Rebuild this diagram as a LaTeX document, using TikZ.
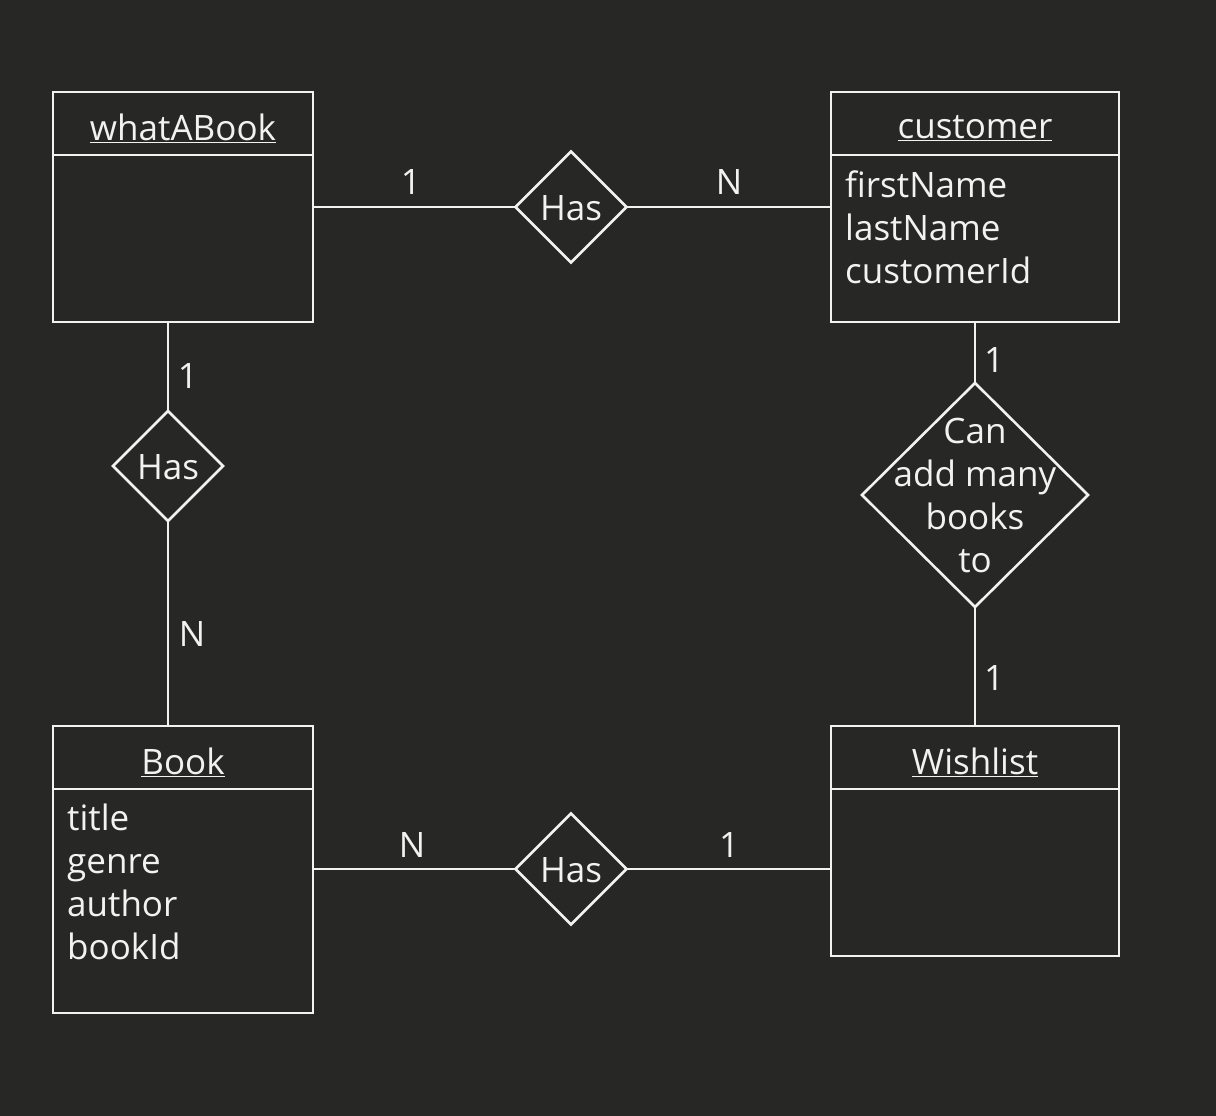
\documentclass[tikz,border=0pt]{standalone}
\usepackage{fontspec}
\setmainfont{Open Sans}
\usetikzlibrary{shapes.geometric}
\definecolor{bgc}{HTML}{272725}
\definecolor{fgc}{HTML}{F2F2F2}
\begin{document}
\begin{tikzpicture}[x=1pt,y=-1pt,
  every node/.style={text=fgc,font=\fontsize{35}{42}\selectfont},
  ln/.style={draw=fgc,line width=2.6pt},
  entity/.style={ln,rectangle,inner sep=0pt,outer sep=0pt,anchor=north west,minimum width=#1},
  rel/.style={ln,diamond,inner sep=0pt,outer sep=0pt,minimum width=#1,minimum height=#1},
  attr/.style={anchor=base west,inner sep=0pt},
  card/.style={inner sep=0pt}]
\fill[bgc] (0,0) rectangle (1216,1116);
\useasboundingbox (0,0) rectangle (1216,1116);

% entities
\node[entity=260pt,minimum height=230pt] (wab) at (53,92) {};
\node[entity=288pt,minimum height=230pt] (cust) at (831,92) {};
\node[entity=260pt,minimum height=287pt] (book) at (53,726) {};
\node[entity=288pt,minimum height=230pt] (wish) at (831,726) {};

% header separators
\coordinate (wabh) at (53,155);
\coordinate (custh) at (831,155);
\coordinate (bookh) at (53,789);
\coordinate (wishh) at (831,789);
\draw[ln] (wabh) -- (wabh -| wab.east);
\draw[ln] (custh) -- (custh -| cust.east);
\draw[ln] (bookh) -- (bookh -| book.east);
\draw[ln] (wishh) -- (wishh -| wish.east);

% titles
\node (twab) at (183,128) {\underline{whatABook}};
\node (tcust) at (975,128) {\underline{customer}};
\node (tbook) at (183,762) {\underline{Book}};
\node (twish) at (975,762) {\underline{Wishlist}};

% attributes
\node[attr] (c1) at (845,197) {firstName};
\node[attr] (c2) at (845,240) {lastName};
\node[attr] (c3) at (845,283) {customerId};
\node[attr] (b1) at (67,830) {title};
\node[attr] (b2) at (67,873) {genre};
\node[attr] (b3) at (67,916) {author};
\node[attr] (b4) at (67,959) {bookId};

% relationships
\node[rel=111pt] (r1) at (571,207) {};
\node (r1t) at (571,208) {Has};
\node[rel=110pt] (r2) at (168,466) {};
\node (r2t) at (168,467) {Has};
\node[rel=111pt] (r4) at (571,869) {};
\node (r4t) at (571,870) {Has};
\node[ln,diamond,inner sep=0pt,outer sep=0pt,minimum width=226pt,minimum height=224pt] (r3) at (975,495) {};
\node[align=center,font=\fontsize{35}{43}\selectfont] (r3t) at (975,495) {Can\\add many\\books\\to};

% connectors
\draw[ln] (wab.east) -- (r1.west);
\draw[ln] (r1.east) -- (cust.west);
\draw[ln] (r2.north |- wab.south) -- (r2.north);
\draw[ln] (r2.south) -- (r2.south |- book.north);
\draw[ln] (cust.south) -- (r3.north);
\draw[ln] (r3.south) -- (wish.north);
\draw[ln] (r4.west -| book.east) -- (r4.west);
\draw[ln] (r4.east) -- (r4.east -| wish.west);

% cardinalities
\node[card] (k1) at (411,182) {1};
\node[card] (k2) at (729,182) {N};
\node[card] (k3) at (188,376) {1};
\node[card] (k4) at (192,634) {N};
\node[card] (k5) at (994,360) {1};
\node[card] (k6) at (994,678) {1};
\node[card] (k7) at (412,845) {N};
\node[card] (k8) at (729,845) {1};
\end{tikzpicture}
\end{document}
